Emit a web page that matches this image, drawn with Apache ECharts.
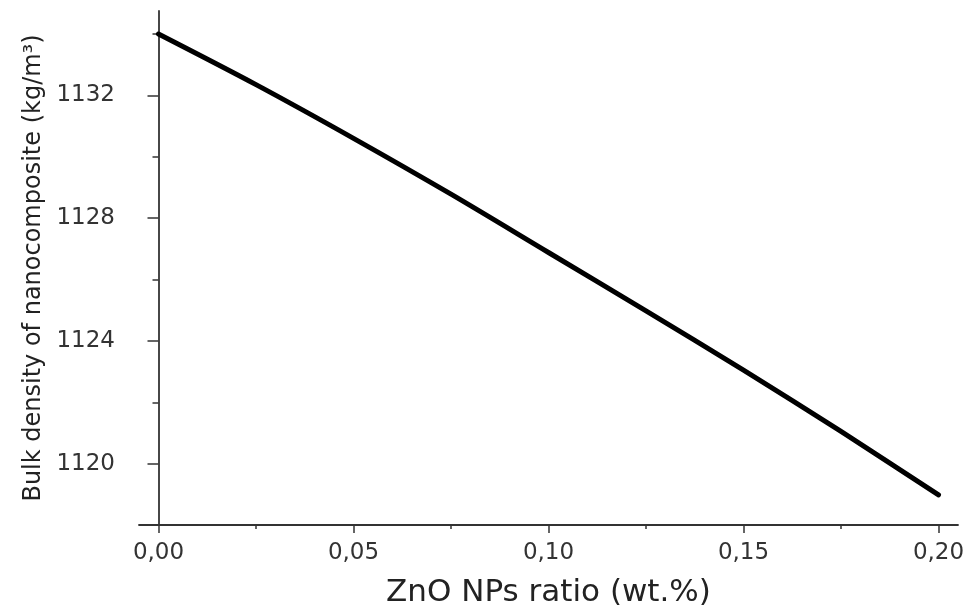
<!DOCTYPE html>
<html>
<head>
<meta charset="utf-8">
<script src="https://cdn.jsdelivr.net/npm/echarts@6/dist/echarts.min.js"></script>
<style>
html,body{margin:0;padding:0;background:#fff;}
#chart{width:969px;height:609px;}
</style>
</head>
<body>
<div id="chart"></div>
<script>
// ZnO NPs ratio (wt.%)
var xValues = [0, 0.025, 0.05, 0.075, 0.10, 0.125, 0.15, 0.175, 0.20];
// Bulk density of nanocomposite (kg/m3)
var densityValues = [1134.0, 1132.35, 1130.60, 1128.78, 1126.88, 1124.98, 1123.05, 1121.05, 1118.98];

var xTicks = [0, 0.05, 0.10, 0.15, 0.20];
var xMinorTicks = [0.025, 0.075, 0.125, 0.175];
var yTicks = [1120, 1124, 1128, 1132];
var yMinorTicks = [1122, 1126, 1130, 1134];

var xName = 'ZnO NPs ratio (wt.%)';
var yName = 'Bulk density of nanocomposite (kg/m³)';

var FONT = 'DejaVu Sans';
var AXIS_COLOR = '#333';
var X_MIN = -0.005, X_MAX = 0.205, Y_MIN = 1118, Y_MAX = 1134.75;

var seriesData = xValues.map(function (x, i) { return [x, densityValues[i]]; });

var chart = echarts.init(document.getElementById('chart'), null, {renderer: 'canvas'});
chart.setOption({
  animation: false,
  backgroundColor: '#fff',
  grid: {left: 139, right: 11, top: 11, bottom: 84, containLabel: false, outerBoundsMode: 'none'},
  xAxis: [{
    type: 'value', min: X_MIN, max: X_MAX,
    name: xName, nameLocation: 'middle', nameGap: 52,
    nameTextStyle: {fontFamily: FONT, fontSize: 31, color: '#222'},
    axisLine: {show: true, lineStyle: {color: AXIS_COLOR, width: 1.8}},
    axisTick: {show: true, length: 8, inside: false, customValues: xTicks, lineStyle: {color: AXIS_COLOR, width: 1.5}},
    axisLabel: {show: true, customValues: xTicks, margin: 17, fontFamily: FONT, fontSize: 23, color: '#333',
      formatter: function (v) { return v.toFixed(2).replace('.', ','); }},
    splitLine: {show: false}
  }, {
    type: 'value', min: X_MIN, max: X_MAX, position: 'bottom',
    axisLine: {show: false},
    axisTick: {show: true, length: 4, customValues: xMinorTicks, lineStyle: {color: AXIS_COLOR, width: 1.5}},
    axisLabel: {show: false},
    splitLine: {show: false}
  }],
  yAxis: [{
    type: 'value', min: Y_MIN, max: Y_MAX,
    name: yName, nameLocation: 'middle', nameGap: 90, nameRotate: 90,
    nameTextStyle: {fontFamily: FONT, fontSize: 24, color: '#222'},
    axisLine: {show: true, lineStyle: {color: AXIS_COLOR, width: 1.8}},
    axisTick: {show: true, length: 11, customValues: yTicks, lineStyle: {color: AXIS_COLOR, width: 1.5}},
    axisLabel: {show: true, customValues: yTicks, margin: 24, fontFamily: FONT, fontSize: 23, color: '#333',
      formatter: function (v) { return String(Math.round(v)); }},
    splitLine: {show: false}
  }, {
    type: 'value', min: Y_MIN, max: Y_MAX, position: 'left',
    axisLine: {show: false},
    axisTick: {show: true, length: 6, customValues: yMinorTicks, lineStyle: {color: AXIS_COLOR, width: 1.5}},
    axisLabel: {show: false},
    splitLine: {show: false}
  }],
  series: [{
    type: 'line',
    xAxisIndex: 0, yAxisIndex: 0,
    data: seriesData,
    smooth: 0.3,
    showSymbol: false,
    lineStyle: {color: '#000', width: 5, cap: 'round', join: 'round'}
  }]
});
</script>
</body>
</html>
